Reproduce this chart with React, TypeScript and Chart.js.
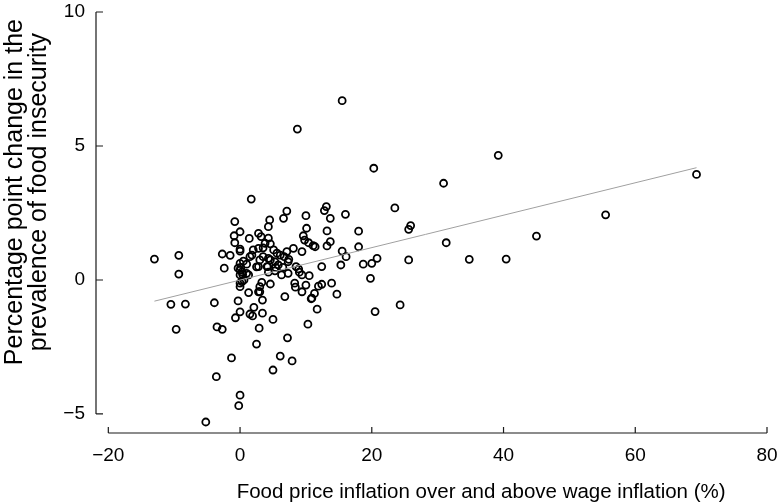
import React, { useEffect, useRef } from "react";
import { Chart, registerables } from "chart.js";

Chart.register(...registerables);

// Food price inflation over and above wage inflation (%)
const inflation: number[] = [
  15.5, 8.7, 20.3, 39.2, 30.9, 69.3, 1.7, 23.5, 25.9, 25.6,
  55.5, 45.0, 31.3, 34.8, 40.4, 25.6, 24.3, 20.5, 20.0, 20.8,
  19.8, 18.7, 18.0, 18.0, 16.0, 15.5, 16.1, 15.3, 14.7, 13.9,
  13.1, 12.8, 13.7, 13.2, 13.7, 13.2, 12.4, 12.4, 11.9, 11.7,
  11.3, 10.8, 10.3, 11.4, 11.1, 10.4, 10.1, 9.6, 9.8, 10.0,
  10.5, 10.0, 9.4, 9.4, 9.0, 8.9, 9.4, 8.5, 8.3, 8.4,
  8.1, 7.4, 7.3, 7.1, 7.1, 6.6, 6.7, 6.5, 6.3, 7.3,
  6.8, 7.2, 7.9, 6.1, 5.0, 5.0, 6.1, 5.6, 5.8, 5.3,
  5.3, 5.1, 4.6, 4.5, 4.3, 4.3, 4.6, 4.6, 4.3, 4.2,
  4.3, 3.5, 3.8, 3.5, 3.0, 3.3, 3.4, 3.4, 3.0, 3.0,
  2.9, 2.5, 2.1, 1.9, 1.5, 2.8, 3.2, 2.8, 2.0, 2.8,
  2.5, 2.8, 1.3, 1.3, 1.0, 1.5, 1.0, 1.8, 1.4, 0.0,
  -0.9, -0.8, -0.8, 0.0, 0.0, 0.0, 0.0, 0.3, 0.1, 0.4,
  0.5, -0.3, 0.0, 0.6, 0.0, 0.3, 0.0, -0.3, 0.0, -0.7,
  0.0, -0.2, -1.3, -3.6, -5.2, -3.5, -2.7, -3.9, -2.7, -1.5,
  -2.4, -9.3, -9.3, -13.0, -10.5, -8.3, -9.7, 10.9, 4.1, 5.4,
];

// Percentage point change in the prevalence of food insecurity
const change: number[] = [
  6.69, 5.63, 4.17, 4.65, 3.61, 3.94, 3.02, 2.69, 2.03, 1.89,
  2.43, 1.64, 1.39, 0.77, 0.78, 0.75, -0.93, -1.18, 0.62, 0.81,
  0.06, 0.59, 1.82, 1.24, 2.45, 1.08, 0.87, 0.56, -0.53, -0.12,
  2.74, 2.59, 2.30, 1.83, 1.43, 1.27, 0.50, -0.16, -0.23, -1.09,
  -0.50, -0.70, -1.65, 1.24, 1.28, 1.39, 1.93, 1.65, 1.49, 2.40,
  0.16, -0.19, -0.44, 0.19, 0.29, 0.41, 1.06, 0.50, -0.12, -0.27,
  1.18, 0.77, 0.68, 1.06, 2.57, 2.30, 0.87, 0.47, 0.19, 0.25,
  -0.62, -2.16, -3.02, -2.84, -3.36, -1.47, 0.93, 1.00, 0.56, 0.68,
  0.34, 1.12, -0.15, 2.24, 1.99, 1.56, 1.35, 0.75, 0.81, 0.50,
  0.29, 1.20, 1.37, 0.87, 0.75, -0.09, -0.75, -1.24, -0.44, -0.25,
  -1.80, -2.39, -1.02, -1.34, -1.27, 1.74, 1.62, 1.18, 1.12, 0.50,
  0.49, -0.44, -0.47, 0.19, 0.25, 0.87, 0.59, 0.93, 1.55, 1.80,
  1.65, 1.39, 2.18, 1.15, 1.08, 0.62, 0.37, 0.30, 0.47, 0.20,
  0.70, 0.44, 0.19, 0.00, -0.12, -0.06, -0.25, -0.78, -1.19, -1.41,
  -4.30, -4.69, -2.91, -3.61, -5.30, -1.75, -1.84, -0.85, 0.97, 0.92,
  0.44, 0.92, 0.22, 0.78, -0.91, -0.90, -1.84, -0.68, 0.50, 0.47,
];

// Fitted regression line end points
const fitX: number[] = [-13.0, 69.3];
const fitY: number[] = [-0.79, 4.19];

const xTicks: number[] = [-20, 0, 20, 40, 60, 80];
const yTicks: number[] = [-5, 0, 5, 10];

const xTitle = "Food price inflation over and above wage inflation (%)";
const yTitle = ["Percentage point change in the", "prevalence of food insecurity"];

const FONT = "'Liberation Sans', Arial, Helvetica, sans-serif";

const fmt = (v: number) => (v < 0 ? "\u2212" + Math.abs(v) : String(v));

const axesPlugin = {
  id: "detachedAxes",
  afterDraw(chart: any) {
    const { ctx, chartArea, scales } = chart;
    const xs = scales.x;
    const ys = scales.y;
    ctx.save();
    ctx.strokeStyle = "#1a1a1a";
    ctx.lineWidth = 1.2;
    // y axis
    const left = chartArea.left;
    const yTop = ys.getPixelForValue(yTicks[yTicks.length - 1]);
    const yBot = ys.getPixelForValue(yTicks[0]);
    ctx.beginPath();
    ctx.moveTo(left, yTop);
    ctx.lineTo(left, yBot);
    for (const t of yTicks) {
      const p = ys.getPixelForValue(t);
      ctx.moveTo(left, p);
      ctx.lineTo(left + 7, p);
    }
    // x axis
    const bottom = chartArea.bottom;
    const xL = xs.getPixelForValue(xTicks[0]);
    const xR = xs.getPixelForValue(xTicks[xTicks.length - 1]);
    ctx.moveTo(xL, bottom);
    ctx.lineTo(xR, bottom);
    for (const t of xTicks) {
      const p = xs.getPixelForValue(t);
      ctx.moveTo(p, bottom);
      ctx.lineTo(p, bottom - 6);
    }
    ctx.stroke();

    // axis titles
    ctx.fillStyle = "#000";
    ctx.textAlign = "center";
    ctx.textBaseline = "alphabetic";
    ctx.font = `20.5px ${FONT}`;
    ctx.fillText(xTitle, xs.getPixelForValue(36.6), 498);

    ctx.translate(0, ys.getPixelForValue(3.28));
    ctx.rotate(-Math.PI / 2);
    ctx.font = `25px ${FONT}`;
    ctx.textBaseline = "middle";
    ctx.fillText(yTitle[0], 0, 15.5);
    ctx.fillText(yTitle[1], 0, 39.5);
    ctx.restore();
  },
};

export default function App() {
  const ref = useRef<HTMLCanvasElement | null>(null);
  useEffect(() => {
    if (!ref.current) return;
    const points = inflation.map((x, i) => ({ x, y: change[i] }));
    const fit = fitX.map((x, i) => ({ x, y: fitY[i] }));
    const chart = new Chart(ref.current, {
      type: "scatter",
      data: {
        datasets: [
          {
            type: "line",
            data: fit,
            borderColor: "#a0a0a0",
            borderWidth: 1,
            pointRadius: 0,
            fill: false,
            clip: false,
          } as any,
          {
            data: points,
            pointRadius: 3.5,
            pointBorderWidth: 1.8,
            borderColor: "#000",
            pointBorderColor: "#000",
            pointBackgroundColor: "rgba(255,255,255,0)",
            backgroundColor: "rgba(255,255,255,0)",
            clip: false,
          } as any,
        ],
      },
      options: {
        responsive: false,
        animation: false,
        events: [],
        layout: { autoPadding: false, padding: { top: 12, right: 10, left: 0, bottom: 0 } },
        plugins: { legend: { display: false }, tooltip: { enabled: false } },
        scales: {
          x: {
            type: "linear",
            min: -21.87,
            max: 80,
            afterBuildTicks: (s: any) => {
              s.ticks = xTicks.map((v) => ({ value: v }));
            },
            afterFit: (s: any) => {
              s.height = 70;
              s.paddingLeft = 0;
              s.paddingRight = 0;
            },
            grid: { display: false, drawTicks: false },
            border: { display: false },
            ticks: {
              padding: 11,
              color: "#000",
              font: { family: FONT, size: 19 },
              callback: (v: any) => fmt(Number(v)),
            },
          },
          y: {
            type: "linear",
            min: -5.71,
            max: 10,
            afterBuildTicks: (s: any) => {
              s.ticks = yTicks.map((v) => ({ value: v }));
            },
            afterFit: (s: any) => {
              s.width = 96;
              s.paddingTop = 0;
              s.paddingBottom = 0;
            },
            grid: { display: false, drawTicks: false },
            border: { display: false },
            ticks: {
              padding: 11,
              color: "#000",
              font: { family: FONT, size: 19 },
              callback: (v: any) => fmt(Number(v)),
            },
          },
        },
      },
      plugins: [axesPlugin],
    });
    return () => chart.destroy();
  }, []);
  return (
    <div style={{ position: "fixed", left: 0, top: 0, width: 777, height: 503, background: "#fff" }}>
      <canvas ref={ref} width={777} height={503} style={{ display: "block" }} />
    </div>
  );
}
